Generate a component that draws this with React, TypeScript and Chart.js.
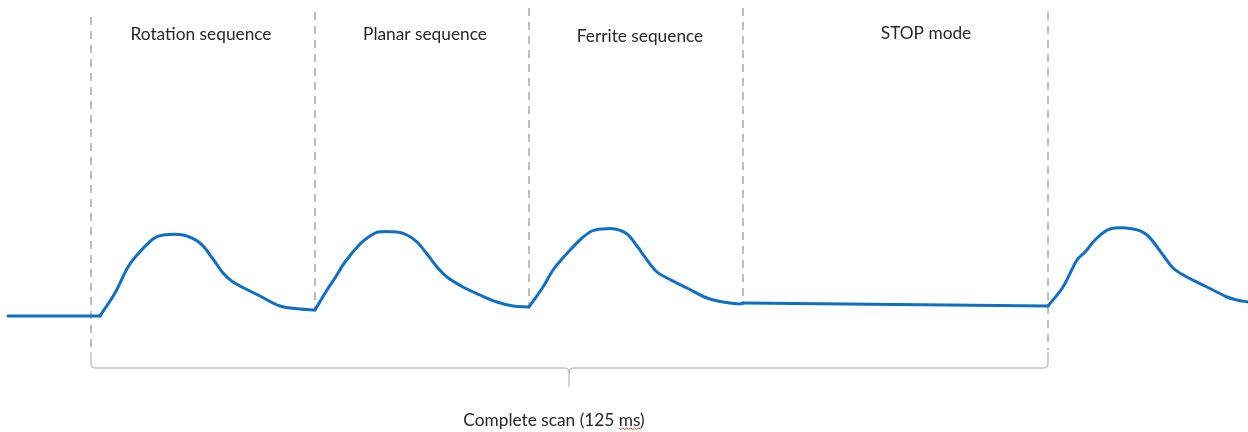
import React, { useEffect, useRef } from "react";
import { Chart, registerables } from "chart.js";

Chart.register(...registerables);

// time axis (arbitrary units across the picture) and signal level
const baseT = [8, 100];
const baseV = [0, 0];
const bump1T = [100, 115, 128, 137, 153, 163, 183, 200, 213, 223, 233, 260, 280, 300, 315];
const bump1V = [0, 23, 49, 61, 77, 81, 81, 73, 57, 43, 34, 20, 10, 7, 6];
const bump2T = [315, 327, 335, 345, 360, 370, 378, 397, 407, 417, 427, 437, 447, 463, 480, 497, 513, 529];
const bump2V = [6, 26, 38, 54, 72, 80, 84, 84, 81, 74, 62, 49, 39, 29, 21, 14, 10, 9];
const bump3T = [529, 543, 553, 562, 572, 582, 592, 602, 615, 627, 637, 647, 657, 667, 687, 707, 723, 740, 743];
const bump3V = [9, 29, 46, 57, 68, 78, 85, 87, 87, 82, 70, 56, 44, 38, 28, 18, 14, 12, 13];
const stopT = [743, 1048];
const stopV = [13, 10];
const bump4T = [1048, 1063, 1077, 1085, 1097, 1110, 1133, 1147, 1163, 1173, 1185, 1207, 1227, 1237, 1248];
const bump4V = [10, 29, 56, 64, 78, 87, 87, 81, 61, 48, 40, 29, 19, 16, 14];

// phase boundaries (dashed markers)
const boundaryT = [91, 315, 529, 743, 1048];
const boundaryTop = [299, 304, 308, 308, 304];
const boundaryBottom = [-36, 5, 8, 11, -34];

// phase labels
const phaseLabels = ["Rotation sequence", "Planar sequence", "Ferrite sequence", "STOP mode"];
const phaseLabelT = [201, 425, 640, 926];
const phaseLabelV = [282, 282, 280, 283];

// brace for the complete scan
const braceLevel = -52;
const braceTop = -36;
const braceTip = -71;
const braceTipT = 569;
const scanLabel = "Complete scan (125 ";
const scanUnit = "ms";
const scanClose = ")";
const scanLabelT = 554;
const scanLabelV = -104;

const X_MIN = 0;
const X_MAX = 1248;
const Y_MIN = -116;
const Y_MAX = 316;

const BLUE = "#0f6fc4";
const DASH = "#a8a8a8";
const BRACE = "#c4c4c4";
const FONT = "Lato, 'Open Sans', sans-serif";

function pts(t: number[], v: number[]) {
  return t.map((x, i) => ({ x, y: v[i] }));
}

const annotate = {
  id: "annotate",
  afterDatasetsDraw(chart: any) {
    const { ctx, scales } = chart;
    const xs = scales.x;
    const ys = scales.y;
    ctx.save();
    // brace
    const x0 = xs.getPixelForValue(boundaryT[0]);
    const x1 = xs.getPixelForValue(boundaryT[boundaryT.length - 1]);
    const yb = ys.getPixelForValue(braceLevel);
    const yt = ys.getPixelForValue(braceTop);
    const ytip = ys.getPixelForValue(braceTip);
    const xm = xs.getPixelForValue(braceTipT);
    const r = 5;
    ctx.strokeStyle = BRACE;
    ctx.lineWidth = 1.5;
    ctx.beginPath();
    ctx.moveTo(x0, yt);
    ctx.lineTo(x0, yb - r);
    ctx.quadraticCurveTo(x0, yb, x0 + r, yb);
    ctx.lineTo(xm - r, yb);
    ctx.quadraticCurveTo(xm, yb, xm, yb + r);
    ctx.lineTo(xm, ytip);
    ctx.moveTo(x1, yt);
    ctx.lineTo(x1, yb - r);
    ctx.quadraticCurveTo(x1, yb, x1 - r, yb);
    ctx.lineTo(xm + r, yb);
    ctx.quadraticCurveTo(xm, yb, xm, yb + r);
    ctx.stroke();

    // labels
    ctx.fillStyle = "#262626";
    ctx.font = `17.3px ${FONT}`;
    ctx.textAlign = "center";
    ctx.textBaseline = "middle";
    phaseLabels.forEach((txt, i) => {
      ctx.fillText(txt, xs.getPixelForValue(phaseLabelT[i]), ys.getPixelForValue(phaseLabelV[i]));
    });
    const full = scanLabel + scanUnit + scanClose;
    const cx = xs.getPixelForValue(scanLabelT);
    const cy = ys.getPixelForValue(scanLabelV);
    ctx.fillText(full, cx, cy);
    // spell-check squiggle under the unit
    const wFull = ctx.measureText(full).width;
    const wPre = ctx.measureText(scanLabel).width;
    const wUnit = ctx.measureText(scanUnit).width;
    const sx = cx - wFull / 2 + wPre;
    const sy = cy + 8;
    ctx.strokeStyle = "#e03030";
    ctx.lineWidth = 1;
    ctx.beginPath();
    ctx.moveTo(sx, sy);
    for (let k = 0, px = sx; px < sx + wUnit; k++) {
      px += 2;
      ctx.lineTo(px, sy + (k % 2 === 0 ? 1.5 : 0));
    }
    ctx.stroke();
    ctx.restore();
  },
};

export default function App() {
  const ref = useRef<HTMLCanvasElement>(null);
  useEffect(() => {
    document.body.style.margin = "0";
    const signal = (t: number[], v: number[]) => ({
      data: pts(t, v),
      borderColor: BLUE,
      borderWidth: 3,
      pointRadius: 0,
      tension: 0.35,
      borderCapStyle: "round" as const,
      borderJoinStyle: "round" as const,
      order: 0,
    });
    const markers = boundaryT.map((t, i) => ({
      data: [
        { x: t, y: boundaryTop[i] },
        { x: t, y: boundaryBottom[i] },
      ],
      borderColor: DASH,
      borderWidth: 1.5,
      borderDash: [8, 6],
      pointRadius: 0,
      order: 1,
    }));
    const chart = new Chart(ref.current!, {
      type: "line",
      data: {
        datasets: [
          ...markers,
          signal(baseT, baseV),
          signal(bump1T, bump1V),
          signal(bump2T, bump2V),
          signal(bump3T, bump3V),
          signal(stopT, stopV),
          signal(bump4T, bump4V),
        ] as any,
      },
      options: {
        responsive: false,
        animation: false,
        layout: { padding: 0 },
        plugins: { legend: { display: false }, tooltip: { enabled: false } },
        scales: {
          x: { type: "linear", min: X_MIN, max: X_MAX, display: false },
          y: { type: "linear", min: Y_MIN, max: Y_MAX, display: false },
        },
      },
      plugins: [annotate],
    });
    return () => chart.destroy();
  }, []);
  return (
    <div style={{ position: "absolute", left: 0, top: 0, width: 1248, height: 432, background: "#fff" }}>
      <canvas ref={ref} width={1248} height={432} />
    </div>
  );
}
